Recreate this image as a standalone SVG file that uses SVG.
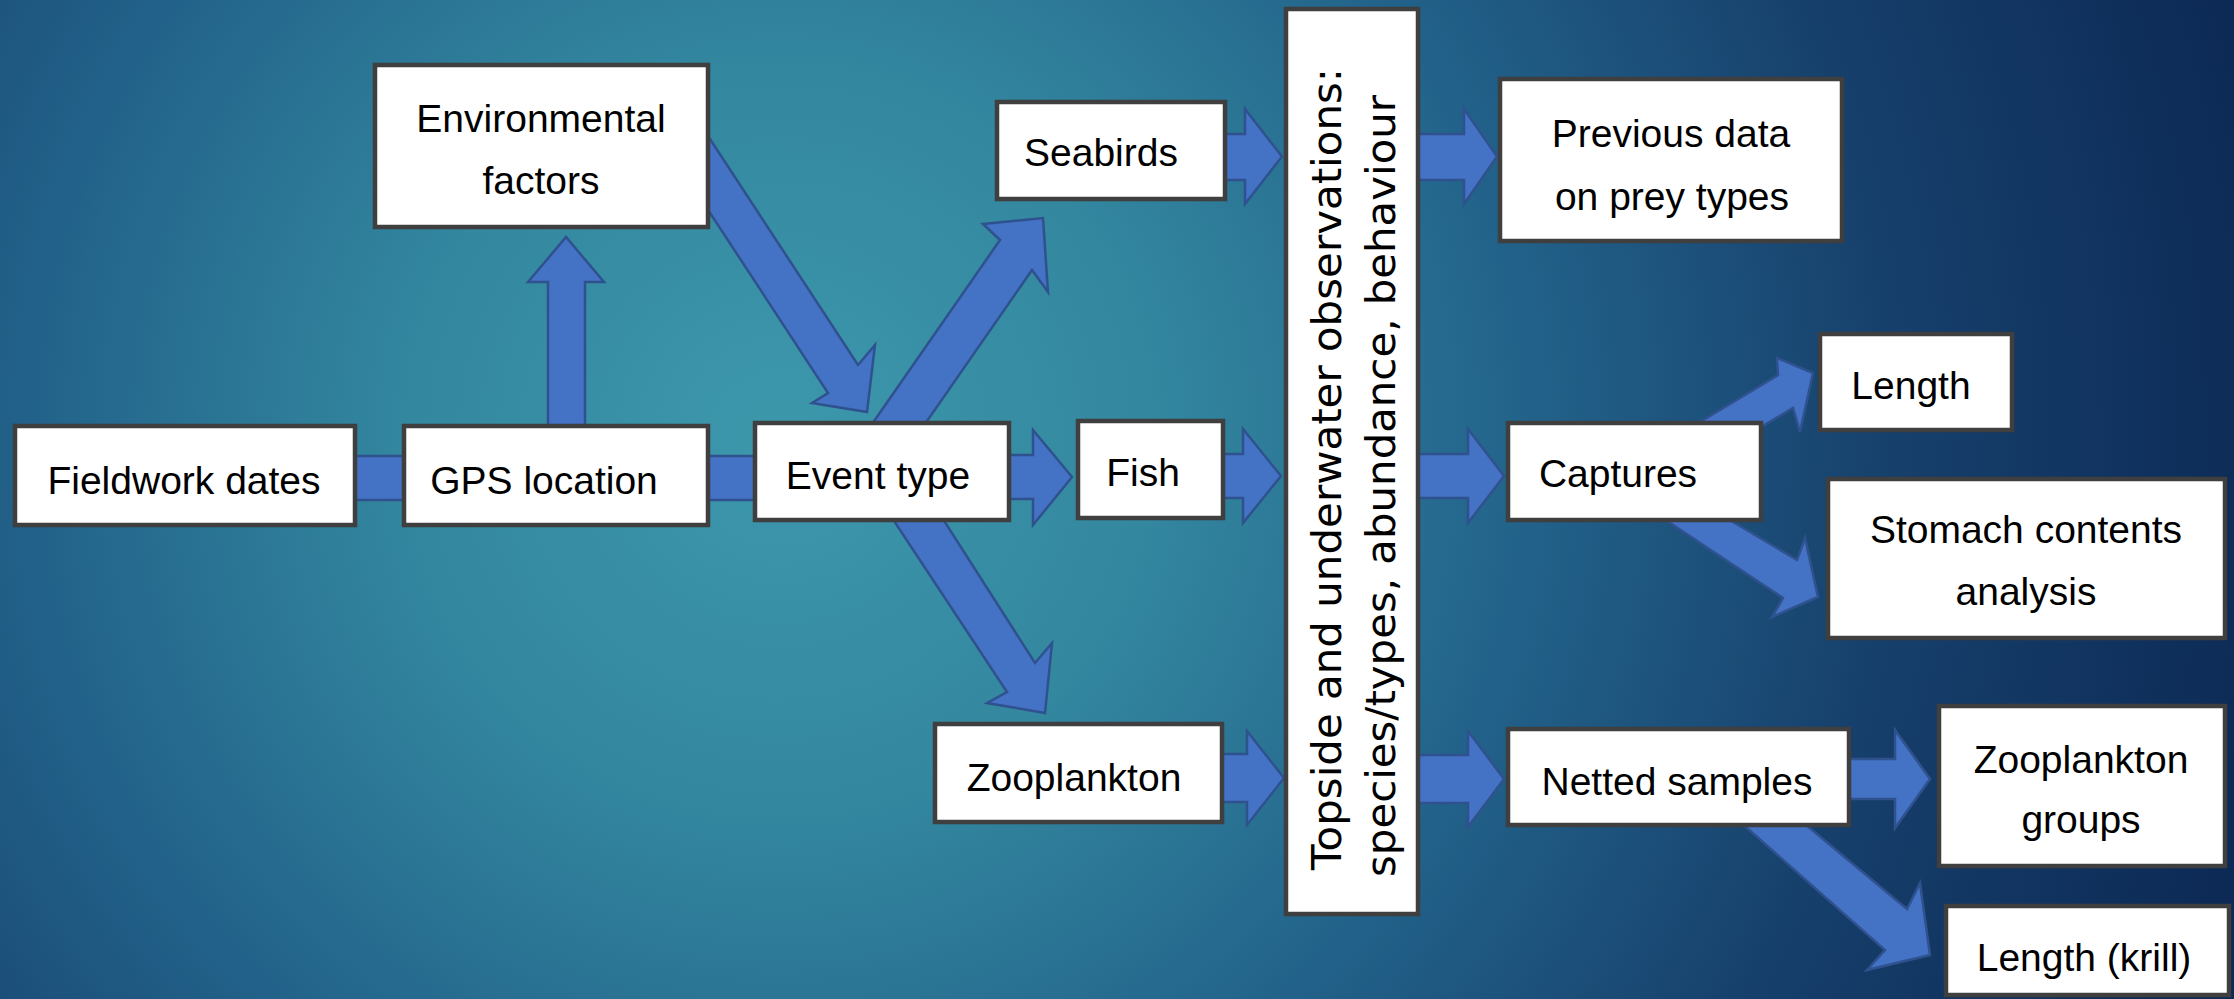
<svg xmlns="http://www.w3.org/2000/svg" width="2234" height="999" viewBox="0 0 2234 999">
<defs>
<radialGradient id="bg" gradientUnits="userSpaceOnUse" cx="780" cy="440" r="1500">
<stop offset="0" stop-color="#3D98AC"/>
<stop offset="0.25" stop-color="#33879F"/>
<stop offset="0.5" stop-color="#22628A"/>
<stop offset="0.75" stop-color="#163F6B"/>
<stop offset="1" stop-color="#0D2A56"/>
</radialGradient>
<style>
.box{fill:#ffffff;stroke:#3F3F3F;stroke-width:4.5}
.arr{fill:#4472C4;stroke:#2F528F;stroke-width:2.5;stroke-linejoin:miter}
.t{font-family:"Liberation Sans",Arial,sans-serif;font-size:39px;fill:#000;text-anchor:middle}
.v{font-family:"DejaVu Sans",Verdana,sans-serif;font-size:40px;fill:#000}
</style>
</defs>
<rect x="0" y="0" width="2234" height="999" fill="url(#bg)"/>

<g id="connectors">
<polygon class="arr" points="345,456 415,456 415,500 345,500"/>
<polygon class="arr" points="700,456 765,456 765,500 700,500"/>
<polygon class="arr" points="548,435 548,282 528,282 566,237 604,282 585,282 585,435"/>
<polygon class="arr" points="691,110 858,365 875,345 867,412 812,403 828,393 657,132"/>
<polygon class="arr" points="847,460 1000,240 983,224 1043,218 1048,292 1032,270 900,460"/>
<polygon class="arr" points="867,480 1007,692 987,703 1045,713 1052,643 1035,663 918,480"/>
<polygon class="arr" points="1000,455 1033,455 1033,430 1072,477 1033,525 1033,499 1000,499"/>
<polygon class="arr" points="1215,134 1245,134 1245,109 1282,156.5 1245,204 1245,180 1215,180"/>
<polygon class="arr" points="1215,454 1243,454 1243,429 1281,476 1243,523 1243,498 1215,498"/>
<polygon class="arr" points="1215,754 1247,754 1247,731 1284,778 1247,825 1247,802 1215,802"/>
<polygon class="arr" points="1410,134 1464,134 1464,109 1497,156.5 1464,204 1464,180 1410,180"/>
<polygon class="arr" points="1410,454 1468,454 1468,429 1504,476 1468,523 1468,498 1410,498"/>
<polygon class="arr" points="1410,755 1468,755 1468,731 1504,779 1468,827 1468,803 1410,803"/>
<polygon class="arr" points="1840,759 1895,759 1895,730 1930,779 1895,828 1895,799 1840,799"/>
<polygon class="arr" points="1640,458 1778,375 1777,358 1813,373 1800,432 1793,408 1660,488"/>
<polygon class="arr" points="1646,470 1797,560 1805,538 1818,597 1772,617 1783,598 1590,470"/>
<polygon class="arr" points="1764,790 1907,909 1920,883 1930,955 1867,970 1885,950 1704,790"/>
</g>

<g id="fieldwork"><rect class="box" x="15" y="426" width="340" height="99"/><text class="t" x="184" y="494">Fieldwork dates</text></g>
<g id="gps"><rect class="box" x="404" y="426" width="304" height="99"/><text class="t" x="544" y="494">GPS location</text></g>
<g id="env"><rect class="box" x="375" y="65" width="333" height="162"/><text class="t" x="541" y="132">Environmental</text><text class="t" x="541" y="194">factors</text></g>
<g id="event"><rect class="box" x="755" y="423" width="254" height="97"/><text class="t" x="878" y="489">Event type</text></g>
<g id="seabirds"><rect class="box" x="997" y="102" width="228" height="97"/><text class="t" x="1101" y="166">Seabirds</text></g>
<g id="fish"><rect class="box" x="1078" y="421" width="145" height="97"/><text class="t" x="1143" y="486">Fish</text></g>
<g id="zooplankton"><rect class="box" x="935" y="724" width="287" height="98"/><text class="t" x="1074" y="791">Zooplankton</text></g>
<g id="observations"><rect class="box" x="1286" y="9" width="132" height="905"/>
<text class="v" transform="translate(1341,870) rotate(-90)" textLength="802" lengthAdjust="spacingAndGlyphs">Topside and underwater observations:</text>
<text class="v" transform="translate(1395,877) rotate(-90)" textLength="782" lengthAdjust="spacingAndGlyphs">species/types, abundance, behaviour</text>
</g>
<g id="previous"><rect class="box" x="1500" y="79" width="342" height="162"/><text class="t" x="1671" y="147">Previous data</text><text class="t" x="1672" y="210">on prey types</text></g>
<g id="captures"><rect class="box" x="1508" y="423" width="253" height="97"/><text class="t" x="1618" y="487">Captures</text></g>
<g id="length"><rect class="box" x="1820" y="334" width="192" height="96"/><text class="t" x="1911" y="399">Length</text></g>
<g id="stomach"><rect class="box" x="1828" y="479" width="397" height="159"/><text class="t" x="2026" y="543">Stomach contents</text><text class="t" x="2026" y="605">analysis</text></g>
<g id="netted"><rect class="box" x="1508" y="729" width="341" height="96"/><text class="t" x="1677" y="795">Netted samples</text></g>
<g id="zoogroups"><rect class="box" x="1939" y="706" width="286" height="160"/><text class="t" x="2081" y="773">Zooplankton</text><text class="t" x="2081" y="833">groups</text></g>
<g id="krill"><rect class="box" x="1946" y="906" width="283" height="89"/><text class="t" x="2084" y="971">Length (krill)</text></g>
</svg>
